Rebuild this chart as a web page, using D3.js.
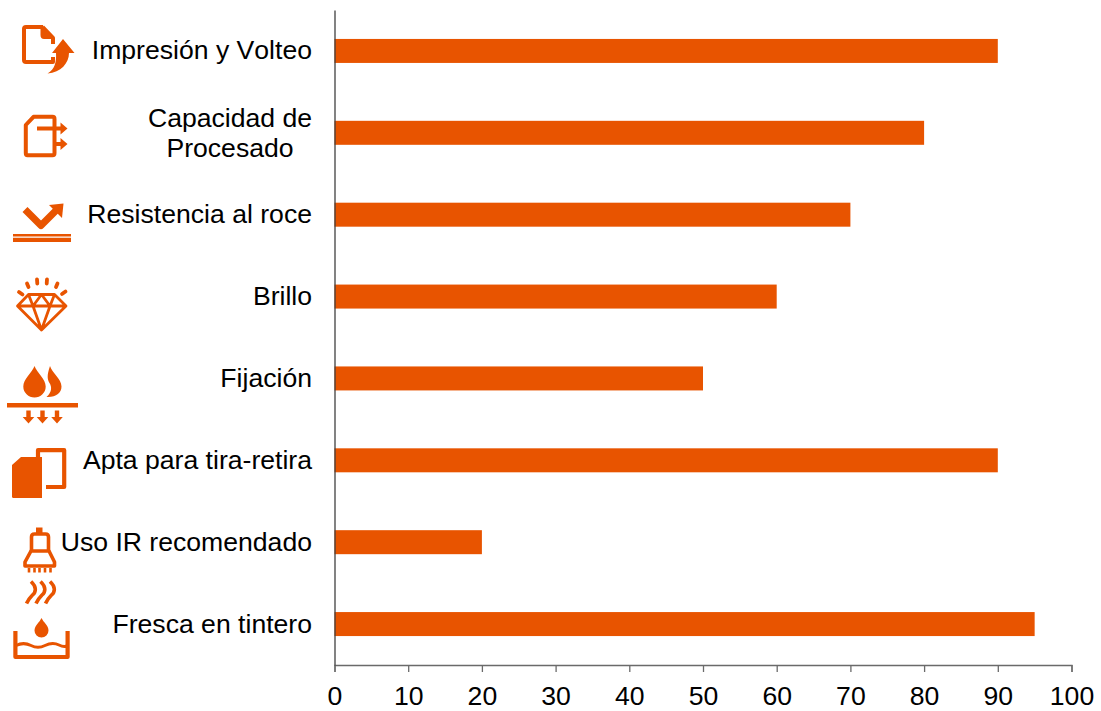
<!DOCTYPE html>
<html>
<head>
<meta charset="utf-8">
<script src="https://d3js.org/d3.v7.min.js"></script>
<style>
    body { margin: 0; background: #fff; }
    text { font-family: "Liberation Sans", Arial, sans-serif; font-kerning: none; }
</style>
</head>
<body>
<script>
var categories = ["Impresión y Volteo", "Capacidad de\nProcesado", "Resistencia al roce", "Brillo", "Fijación", "Apta para tira-retira", "Uso IR recomendado", "Fresca en tintero"];
var values = [90, 80, 70, 60, 50, 90, 20, 95];
var xTicks = [0, 10, 20, 30, 40, 50, 60, 70, 80, 90, 100];

var orange = "#e85400";
var margin = { left: 334.5, right: 29.5, top: 10, bottom: 46 };
var width = 1101 - margin.left - margin.right;
var height = 711 - margin.top - margin.bottom;

var root = d3.select("body").append("svg")
    .attr("width", 1101)
    .attr("height", 711)
    .style("display", "block");

var svg = root.append("g")
    .attr("transform", `translate(${margin.left}, ${margin.top})`);

var x = d3.scaleLinear().domain([0, 100]).range([0, width]);

// inner padding .707 leaves bars about 24px tall
var y = d3.scaleBand()
    .domain(categories)
    .range([0, height])
    .paddingInner(0.707)
    .paddingOuter(0.3535);

svg.selectAll("rect")
    .data(categories)
    .enter()
    .append("rect")
    .attr("x", 0)
    .attr("y", d => y(d))
    .attr("width", (d, i) => x(values[i]))
    .attr("height", y.bandwidth())
    .attr("fill", orange);

var xAxis = svg.append("g")
    .attr("transform", `translate(0, ${height})`)
    .call(d3.axisBottom(x).tickValues(xTicks).tickSize(7).tickSizeOuter(7).tickPadding(14));
xAxis.selectAll("path, line").attr("stroke", "#6a6a6a").attr("stroke-width", 1.3);
xAxis.selectAll("text").attr("font-size", 26.6).attr("fill", "#000")
    .style("font-family", "'Liberation Sans', Arial, sans-serif");

var yAxis = svg.append("g")
    .call(d3.axisLeft(y).tickSize(0).tickPadding(22.5));
yAxis.select("path").attr("stroke", "#404040").attr("stroke-width", 1.3);
yAxis.selectAll("text")
    .attr("font-size", 26.6)
    .attr("fill", "#000")
    .style("font-family", "'Liberation Sans', Arial, sans-serif")
    .each(function (d) {
        var lines = d.split("\n");
        if (lines.length < 2) return;
        // two line label is centred in the original
        var t = d3.select(this).text(null).attr("text-anchor", "middle").attr("x", -104.5).attr("dy", null);
        lines.forEach((line, i) => {
            t.append("tspan").attr("x", -104.5).attr("y", (i - 0.5) * 30 + 9).text(line);
        });
    });

// icons next to the labels, traced by hand
var icons = root.append("g").attr("fill", "none").attr("stroke", orange).attr("stroke-width", 4).attr("stroke-linejoin", "round");

function line(d, w) { return icons.append("path").attr("d", d).attr("stroke-width", w || 4); }
function solid(d) { return icons.append("path").attr("d", d).attr("fill", orange).attr("stroke", "none"); }

// Impresión y Volteo
line("M43 27H26Q24 27 24 29V60Q24 62 26 62H50M53 57V62L50 62");
line("M42.5 27L53 38V44");
solid("M40.5 26L55 39H44Q40.5 39 40.5 35Z");
solid("M63 39L74.5 53H69C69 63 61 72.5 47.5 73.5C55 69 56.5 62 56 53H52Z");

// Capacidad de Procesado
line("M33.5 116.8H52.5Q54.5 116.8 54.5 119V153Q54.5 155.3 52.5 155.3H27.5Q25.8 155.3 25.8 153V125Z");
line("M37 128.5H62M55 144H62", 4.2);
solid("M60.5 122.5L67.5 128.5L60.5 134.5ZM60.5 138L67.5 144L60.5 150Z");

// Resistencia al roce
line("M25 209.5L41 225.5L57 209.5", 7);
solid("M49 205L63.5 203.5L62 218Z");
solid("M13 234H71V236.4H13ZM13 237.8H71V242H13Z");

// Brillo
line("M28.5 294.5H54.5L66 306L41.5 330L17.5 306ZM17.5 306H66M28.5 294.5L33 306L41.5 330L50 306L54.5 294.5M33 306L41.5 294.5L50 306", 2.8);
icons.append("path").attr("stroke-linecap", "round").attr("stroke-width", 3.8)
    .attr("d", "M19 292L22.5 294.5M27 283.5L28.5 287M37 279.5L37.3 283.5M47 279.5L46.7 283.5M57.5 283.5L56 287M65.5 291.5L62 294");

// Fijación
solid("M34.5 366C37 373 45.7 379 45.7 386.5A11.2 11 0 0 1 23.3 386.5C23.3 379 32 373 34.5 366Z");
solid("M50 366C52 373 61.5 379 61.5 386.5C61.5 393 56 397.5 46.5 397C52 392 52 387 49.5 383C47.5 379.5 46.5 376 50 366Z");
solid("M7 403H78V407.5H7Z");
[28.5, 42.5, 57].forEach(function (cx) {
    solid(`M${cx - 2.2} 410.5H${cx + 2.2}V417H${cx + 5.8}L${cx} 423.5L${cx - 5.8} 417H${cx - 2.2}Z`);
});

// Apta para tira-retira
solid("M21 457H42V498H13.5Q12 498 12 496.5V465Z");
line("M38 457V450.2H64.2V487H46", 4.2);

// Uso IR recomendado
solid("M36 527.5H42.5V534H36Z");
line("M31.5 551V537Q31.5 534 34.5 534H45.5Q48.5 534 48.5 537V551", 3.6);
line("M31 551H49L54.5 562V566H25V562Z", 3.6);
line("M29 568V572.5M34.5 568V572.5M39.5 568V572.5M45 568V572.5M50.5 568V572.5", 2.6);
[0, 9.5, 19].forEach(function (dx) {
    icons.append("path").attr("stroke-width", 3.6)
        .attr("d", `M${31 + dx} 581.5C${37 + dx} 587 ${36 + dx} 592 ${32.5 + dx} 595C${30 + dx} 597.5 ${28 + dx} 600 ${26.5 + dx} 603.5`);
});

// Fresca en tintero
line("M15.4 631V657H67.6V631", 4.2);
line("M16 645.5C21 643 26 643 31 645.5C36 648 40 648 45 645.5C50 643 55 643 59 645C62 646.5 64 647 67 646", 3);
solid("M41.5 618C43.5 622.5 48.5 625.5 48.5 630.5A7 7 0 0 1 34.5 630.5C34.5 625.5 39.5 622.5 41.5 618Z");
</script>
</body>
</html>
